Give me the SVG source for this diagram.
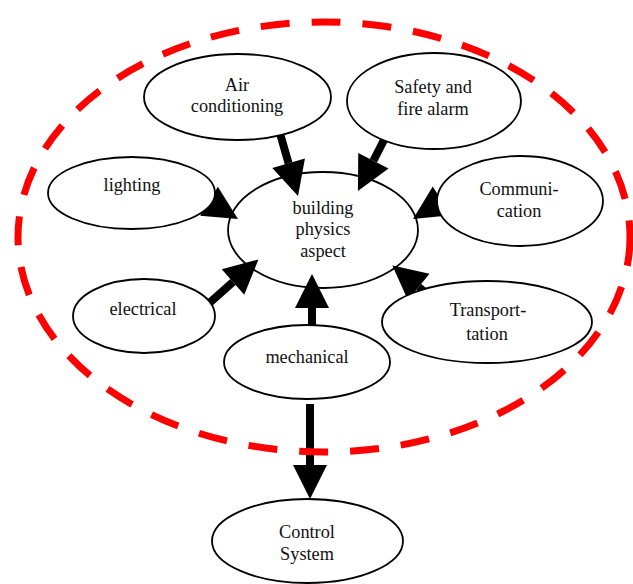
<svg xmlns="http://www.w3.org/2000/svg" width="633" height="584" viewBox="0 0 633 584">
<style>
.node ellipse{fill:#fff;stroke:#000;stroke-width:1.8}
.node text{font-family:"Liberation Serif","Times New Roman",serif;font-size:18.3px;fill:#111;text-anchor:middle}
.conn line{stroke:#000;stroke-width:8;stroke-linecap:butt;marker-end:url(#head)}
.boundary{fill:none;stroke:#ff0000;stroke-width:7;stroke-dasharray:29 22}
</style>
<defs>
<marker id="head" markerWidth="4.25" markerHeight="4.25" refX="0" refY="2.125" orient="auto" markerUnits="strokeWidth" overflow="visible">
<path d="M0,0 L4.25,2.125 L0,4.25 Z" fill="#000"/>
</marker>
</defs>
<rect width="633" height="584" fill="#fff"/>
<g id="center" class="node">
<ellipse cx="323" cy="230" rx="95" ry="58"/>
<text x="323" y="214">building</text>
<text x="323" y="235">physics</text>
<text x="323" y="257">aspect</text>
</g>
<g id="connectors" class="conn">
<line x1="279" y1="130" x2="288.6" y2="163.3"/>
<line x1="384.8" y1="138.4" x2="373.4" y2="160.7"/>
<line x1="467.2" y1="184.9" x2="441.8" y2="200.9"/>
<line x1="442" y1="306" x2="418.7" y2="287"/>
<line x1="183.4" y1="185.7" x2="209" y2="201.3"/>
<line x1="206.8" y1="305.2" x2="233" y2="282"/>
<line x1="312" y1="340" x2="312" y2="308"/>
<line x1="310" y1="404" x2="310" y2="465"/>
</g>
<g id="air" class="node">
<ellipse cx="237.5" cy="97" rx="93.5" ry="43"/>
<text x="237" y="91">Air</text>
<text x="237" y="112">conditioning</text>
</g>
<g id="safety" class="node">
<ellipse cx="434" cy="101" rx="87" ry="48"/>
<text x="433" y="93">Safety and</text>
<text x="433" y="115">fire alarm</text>
</g>
<g id="lighting" class="node">
<ellipse cx="131.5" cy="193" rx="83.5" ry="36"/>
<text x="132" y="191">lighting</text>
</g>
<g id="communication" class="node">
<ellipse cx="520" cy="201" rx="83" ry="45"/>
<text x="519" y="195">Communi-</text>
<text x="519" y="217">cation</text>
</g>
<g id="transportation" class="node">
<ellipse cx="487" cy="322" rx="105" ry="41"/>
<text x="488" y="316">Transport-</text>
<text x="487" y="340">tation</text>
</g>
<g id="electrical" class="node">
<ellipse cx="144" cy="316" rx="71" ry="37"/>
<text x="143" y="315">electrical</text>
</g>
<g id="mechanical" class="node">
<ellipse cx="307" cy="362" rx="83" ry="37"/>
<text x="307" y="363">mechanical</text>
</g>
<g id="control" class="node">
<ellipse cx="307.5" cy="541" rx="95.5" ry="42"/>
<text x="307" y="538">Control</text>
<text x="307" y="560">System</text>
</g>
<ellipse class="boundary" cx="324" cy="237" rx="306" ry="215"/>
</svg>
